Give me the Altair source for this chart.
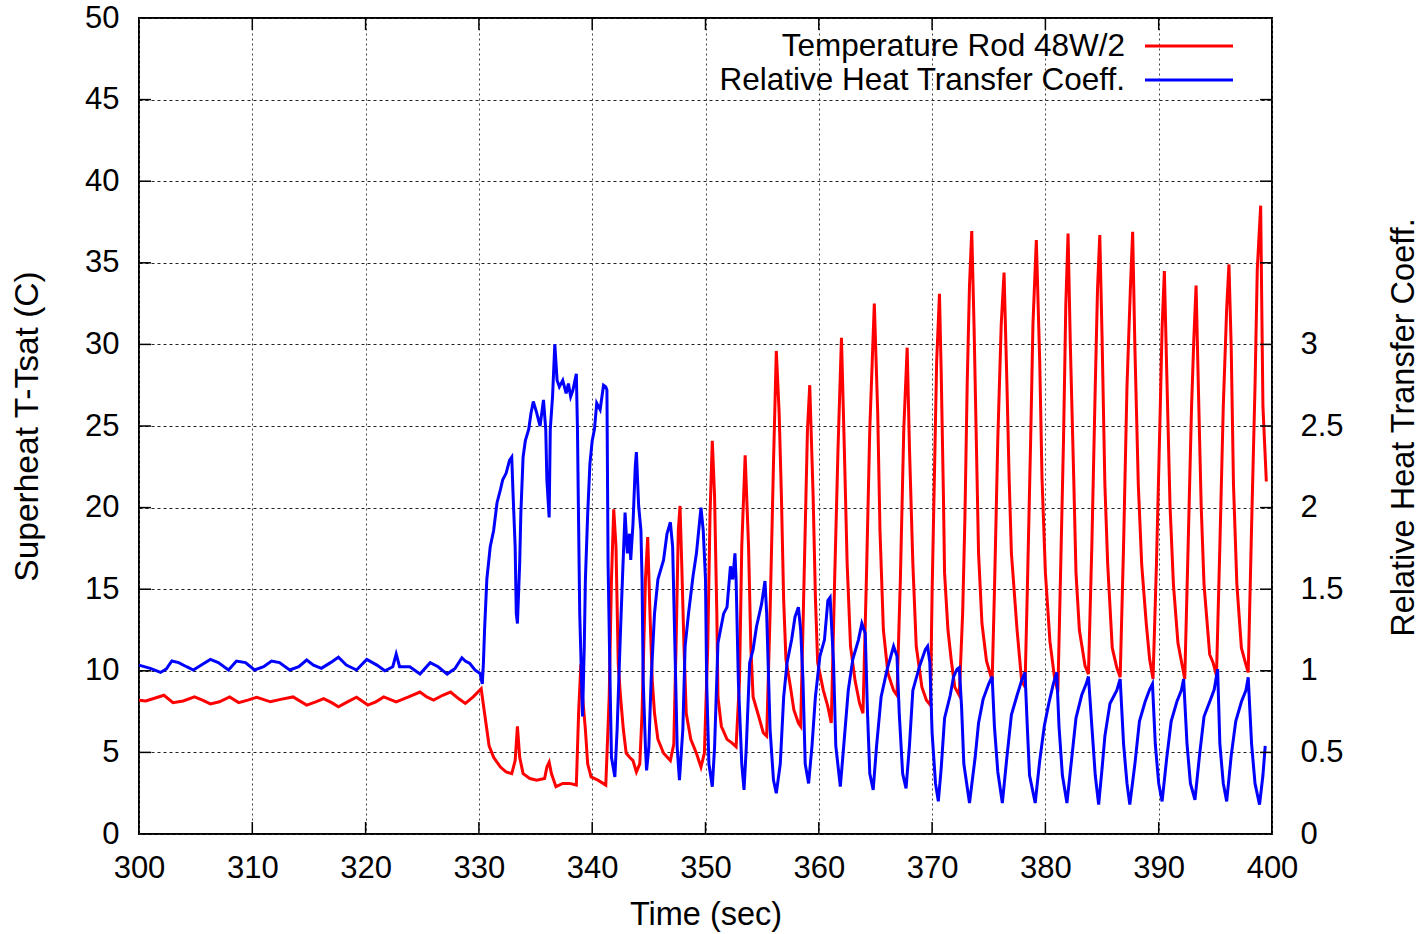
import altair as alt
import pandas as pd

# ---------------- data ----------------
series_names = ["Temperature Rod 48W/2", "Relative Heat Transfer Coeff."]
series_colors = ["#ff0000", "#0000ff"]

x_ticks = [300, 310, 320, 330, 340, 350, 360, 370, 380, 390, 400]
y_ticks = [0, 5, 10, 15, 20, 25, 30, 35, 40, 45, 50]
y2_ticks = [0, 0.5, 1, 1.5, 2, 2.5, 3]

# Superheat T-Tsat (C) of the rod: (time s, value)
temperature = [
    (300.0, 8.2), (300.6, 8.15), (301.3, 8.3), (302.2, 8.5), (303.0, 8.05), (303.9, 8.15),
    (304.9, 8.4), (305.6, 8.2), (306.3, 7.97), (307.1, 8.1), (308.0, 8.4), (308.8, 8.05),
    (309.6, 8.2), (310.4, 8.38), (311.6, 8.1), (312.5, 8.25), (313.6, 8.4), (314.8, 7.9),
    (315.6, 8.1), (316.3, 8.3), (317.0, 8.05), (317.6, 7.8), (318.4, 8.1), (319.2, 8.38),
    (320.2, 7.9), (320.9, 8.1), (321.6, 8.4), (322.7, 8.1), (323.8, 8.4), (324.8, 8.7),
    (325.4, 8.4), (326.0, 8.2), (326.8, 8.5), (327.5, 8.7), (328.2, 8.3), (328.8, 8.0),
    (329.5, 8.4), (330.2, 8.9),
    (330.5, 7.4), (330.7, 6.4), (330.9, 5.4), (331.3, 4.7), (331.9, 4.1), (332.4, 3.8),
    (332.9, 3.7), (333.2, 4.5), (333.4, 6.6), (333.6, 4.7), (333.9, 3.7), (334.5, 3.4),
    (335.1, 3.3), (335.8, 3.4), (336.0, 4.1), (336.2, 4.4), (336.4, 3.7), (336.8, 2.9),
    (337.4, 3.1), (338.0, 3.1), (338.6, 3.0), (338.8, 7.4), (339.0, 10.4), (339.15, 8.4),
    (339.4, 6.4), (339.6, 4.3), (339.9, 3.5), (340.5, 3.3), (341.2, 3.0),
    (341.5, 8.4), (341.7, 15.6), (341.9, 19.9), (342.1, 17.6), (342.3, 10.4), (342.5, 8.4),
    (342.75, 6.4), (343.0, 4.95), (343.3, 4.7), (343.6, 4.5), (343.9, 3.8), (344.2, 4.3),
    (344.4, 7.4), (344.7, 15.6), (344.9, 18.2), (345.1, 13.5), (345.3, 9.4), (345.5, 7.4),
    (345.8, 5.8), (346.3, 4.95), (346.9, 4.5), (347.2, 5.5), (347.4, 11.5), (347.6, 18.6),
    (347.75, 20.1), (347.9, 16.6), (348.1, 11.5), (348.3, 7.4), (348.7, 5.8), (349.2, 4.95),
    (349.6, 4.1), (349.9, 4.95), (350.2, 11.5), (350.4, 19.6), (350.6, 24.1), (350.8, 20.7),
    (351.0, 13.5), (351.1, 8.4), (351.4, 6.6), (351.9, 5.8), (352.3, 5.6), (352.7, 5.35),
    (353.0, 9.4), (353.2, 17.6), (353.5, 23.2), (353.8, 17.6), (354.0, 11.5), (354.2, 8.4),
    (354.7, 7.2), (355.1, 6.2), (355.4, 6.0), (355.7, 13.5), (356.0, 22.7), (356.25, 29.6),
    (356.5, 25.8), (356.7, 20.7), (356.9, 14.3), (357.1, 10.7), (357.5, 9.0), (357.8, 7.6),
    (358.2, 6.8), (358.4, 6.6), (358.7, 15.6), (359.0, 24.8), (359.2, 27.5), (359.5, 20.7),
    (359.7, 14.5), (359.9, 10.5), (360.4, 8.8), (360.8, 7.8), (361.1, 6.8), (361.4, 15.6),
    (361.7, 23.7), (362.0, 30.4), (362.25, 23.7), (362.5, 16.6), (362.8, 11.5), (363.2, 9.4),
    (363.6, 8.0), (363.9, 7.4), (364.2, 15.6), (364.5, 24.8), (364.9, 32.5), (365.2, 25.8),
    (365.4, 18.6), (365.7, 12.5), (366.1, 9.85), (366.6, 8.8), (366.9, 8.5), (367.2, 15.6),
    (367.5, 24.8), (367.8, 29.8), (368.0, 23.7), (368.3, 16.6), (368.6, 11.5), (369.1, 9.0),
    (369.5, 8.2), (369.85, 7.9), (370.0, 14.8), (370.2, 21.8), (370.4, 28.9), (370.65, 33.1),
    (370.8, 28.4), (371.0, 20.7), (371.1, 16.0), (371.4, 12.5), (371.7, 10.6), (372.0, 9.0),
    (372.4, 8.5), (372.7, 13.6), (372.9, 19.5), (373.1, 27.7), (373.3, 33.6), (373.5, 36.95),
    (373.7, 31.2), (373.9, 24.2), (374.1, 17.2), (374.4, 12.9), (374.8, 10.6), (375.3, 9.4),
    (375.5, 14.8), (375.8, 24.2), (376.1, 31.2), (376.35, 34.4), (376.6, 27.7), (376.8, 21.8),
    (377.0, 17.2), (377.5, 12.5), (377.9, 9.4), (378.2, 9.0), (378.4, 14.8), (378.7, 24.2),
    (378.9, 31.2), (379.2, 36.4), (379.5, 28.9), (379.7, 21.8), (380.0, 16.0), (380.4, 11.8),
    (380.8, 9.6), (381.1, 8.7), (381.3, 14.8), (381.6, 24.2), (381.8, 32.4), (382.0, 36.8),
    (382.2, 30.0), (382.5, 21.8), (382.7, 16.0), (383.0, 12.5), (383.5, 10.3), (383.8, 9.8),
    (384.1, 17.7), (384.4, 27.4), (384.6, 33.4), (384.8, 36.7), (385.0, 30.5), (385.25, 21.4),
    (385.5, 16.5), (385.9, 11.4), (386.3, 10.2), (386.6, 9.6), (386.9, 17.7), (387.2, 27.4),
    (387.5, 33.4), (387.7, 36.9), (387.9, 29.8), (388.2, 21.4), (388.5, 16.5), (388.9, 12.9),
    (389.2, 10.7), (389.5, 9.5), (389.8, 16.5), (390.1, 25.0), (390.3, 31.0), (390.5, 34.5),
    (390.7, 28.6), (391.0, 20.1), (391.3, 15.3), (391.7, 11.7), (392.3, 9.5), (392.6, 17.7),
    (392.9, 26.2), (393.1, 30.3), (393.3, 33.6), (393.5, 27.4), (393.75, 20.1), (394.0, 15.3),
    (394.5, 11.0), (394.8, 10.5), (395.1, 9.7), (395.4, 17.7), (395.7, 26.2), (396.0, 32.2),
    (396.2, 34.9), (396.4, 29.8), (396.6, 21.4), (396.9, 15.3), (397.3, 11.4), (397.65, 10.5),
    (397.9, 9.9), (398.2, 18.9), (398.5, 27.4), (398.7, 34.6), (399.0, 38.5), (399.1, 32.2),
    (399.2, 26.2), (399.5, 21.6),
]

# Relative heat transfer coefficient (right axis): (time s, value)
htc = [
    (300.0, 1.035), (301.0, 1.015), (301.9, 0.99), (302.4, 1.01), (302.9, 1.06), (303.5, 1.05),
    (304.2, 1.025), (304.8, 1.005), (305.5, 1.035), (306.3, 1.07), (307.0, 1.05), (307.9, 1.005),
    (308.6, 1.06), (309.4, 1.05), (310.2, 1.005), (311.0, 1.025), (311.7, 1.06), (312.4, 1.05),
    (313.3, 1.005), (314.1, 1.025), (314.8, 1.066), (315.4, 1.035), (316.1, 1.015), (316.9, 1.05),
    (317.6, 1.083), (318.3, 1.035), (319.2, 1.005), (320.1, 1.07), (321.0, 1.035), (321.7, 1.0),
    (322.4, 1.025), (322.7, 1.103), (323.0, 1.025), (323.9, 1.025), (324.8, 0.98), (325.7, 1.05),
    (326.4, 1.025), (327.2, 0.98), (327.9, 1.015), (328.5, 1.08), (328.8, 1.06), (329.2, 1.045),
    (329.65, 1.005), (330.1, 0.984), (330.3, 0.92),
    (330.4, 1.05), (330.5, 1.25), (330.7, 1.56), (331.0, 1.76), (331.3, 1.86), (331.6, 2.03),
    (331.9, 2.11), (332.1, 2.17), (332.4, 2.21), (332.7, 2.29), (332.9, 2.31), (333.0, 2.11),
    (333.2, 1.76), (333.3, 1.35), (333.4, 1.29), (333.6, 1.66), (333.7, 1.96), (333.9, 2.31),
    (334.1, 2.41), (334.4, 2.48), (334.6, 2.58), (334.8, 2.65), (335.1, 2.58), (335.4, 2.50),
    (335.7, 2.66), (335.9, 2.48), (336.0, 2.17), (336.2, 1.94), (336.3, 2.48), (336.5, 2.68),
    (336.7, 3.00), (336.9, 2.78), (337.1, 2.74), (337.4, 2.78), (337.7, 2.70), (337.9, 2.76),
    (338.1, 2.68), (338.3, 2.72), (338.6, 2.82), (338.7, 2.48), (338.8, 1.90), (338.9, 1.35),
    (339.1, 0.84), (339.15, 0.72), (339.3, 1.15), (339.4, 1.56), (339.6, 1.96), (339.8, 2.27),
    (340.0, 2.41), (340.2, 2.48), (340.4, 2.64), (340.7, 2.60), (341.0, 2.75), (341.2, 2.74),
    (341.3, 2.72), (341.4, 1.66), (341.6, 0.84), (341.7, 0.47), (342.0, 0.35),
    (342.2, 0.64), (342.5, 1.25), (342.7, 1.62), (342.9, 1.97), (343.1, 1.72), (343.3, 1.84),
    (343.4, 1.68), (343.6, 1.90), (343.8, 2.25), (343.9, 2.34), (344.1, 2.01), (344.3, 1.86),
    (344.4, 1.56), (344.5, 0.94), (344.7, 0.53), (344.8, 0.39), (345.0, 0.53), (345.2, 0.94),
    (345.5, 1.35), (345.8, 1.56), (346.3, 1.68), (346.6, 1.84), (346.9, 1.91), (347.1, 1.76),
    (347.3, 1.15), (347.5, 0.53), (347.7, 0.33), (348.0, 0.64), (348.2, 1.15), (348.5, 1.35),
    (348.9, 1.58), (349.2, 1.72), (349.6, 2.00), (349.8, 1.86), (350.0, 1.56), (350.1, 0.94),
    (350.3, 0.43), (350.6, 0.29), (350.8, 0.53), (351.1, 1.17), (351.6, 1.35), (351.9, 1.39),
    (352.2, 1.64), (352.4, 1.56), (352.6, 1.72), (352.7, 1.56), (352.9, 0.94), (353.2, 0.43),
    (353.4, 0.27), (353.6, 0.53), (353.9, 1.05), (354.2, 1.13), (354.5, 1.27), (354.95, 1.41),
    (355.25, 1.55), (355.4, 1.35), (355.7, 0.64), (356.0, 0.33), (356.25, 0.25),
    (356.6, 0.43), (356.9, 0.84), (357.2, 1.05), (357.6, 1.19), (357.9, 1.33), (358.2, 1.39),
    (358.4, 1.25), (358.6, 0.95), (358.8, 0.43), (359.1, 0.31), (359.4, 0.54), (359.7, 0.84),
    (360.1, 1.09), (360.5, 1.19), (360.8, 1.43), (361.0, 1.45), (361.3, 1.05), (361.5, 0.54),
    (361.9, 0.29), (362.2, 0.54), (362.6, 0.88), (363.0, 1.07), (363.5, 1.19), (363.8, 1.29),
    (364.1, 1.23), (364.3, 0.74), (364.5, 0.37), (364.8, 0.27), (365.1, 0.54), (365.5, 0.84),
    (366.0, 1.00), (366.6, 1.15), (366.9, 1.09), (367.1, 0.74), (367.4, 0.37), (367.7, 0.28),
    (368.0, 0.54), (368.3, 0.88), (368.9, 1.03), (369.4, 1.13), (369.6, 1.15), (369.8, 1.05),
    (370.0, 0.62), (370.3, 0.31), (370.55, 0.20),
    (370.8, 0.40), (371.1, 0.71), (371.6, 0.85), (371.9, 0.965), (372.2, 1.01), (372.4, 1.02),
    (372.6, 0.78), (372.8, 0.43), (373.3, 0.19), (373.8, 0.47), (374.1, 0.68), (374.5, 0.825),
    (375.0, 0.92), (375.3, 0.965), (375.5, 0.66), (375.8, 0.38), (376.2, 0.19), (376.6, 0.47),
    (377.0, 0.73), (377.5, 0.85), (377.9, 0.94), (378.2, 0.99), (378.4, 0.66), (378.6, 0.36),
    (379.1, 0.19), (379.5, 0.45), (379.9, 0.66), (380.3, 0.80), (380.7, 0.92), (381.0, 0.99),
    (381.2, 0.66), (381.5, 0.36), (381.9, 0.19), (382.3, 0.45), (382.7, 0.71), (383.2, 0.85),
    (383.6, 0.92), (383.8, 0.965), (384.1, 0.66), (384.4, 0.36), (384.7, 0.18),
    (385.0, 0.40), (385.25, 0.60), (385.7, 0.80), (386.3, 0.88), (386.6, 0.95), (386.9, 0.55),
    (387.2, 0.31), (387.45, 0.18), (387.9, 0.43), (388.3, 0.69), (388.8, 0.81), (389.2, 0.885),
    (389.45, 0.92), (389.7, 0.55), (390.0, 0.31), (390.3, 0.20), (390.7, 0.46), (391.1, 0.69),
    (391.6, 0.81), (392.0, 0.88), (392.2, 0.95), (392.5, 0.55), (392.8, 0.31), (393.2, 0.21),
    (393.6, 0.48), (394.0, 0.72), (394.5, 0.81), (394.9, 0.885), (395.2, 1.01), (395.4, 0.55),
    (395.7, 0.31), (396.0, 0.20), (396.4, 0.48), (396.8, 0.69), (397.3, 0.81), (397.7, 0.88),
    (397.9, 0.96), (398.2, 0.55), (398.5, 0.31), (398.9, 0.18), (399.2, 0.36), (399.4, 0.54),
]

# ---------------- chart ----------------
W, H = 1133, 816
FONT = "Liberation Sans"
FS = 31        # tick labels
FT = 32.5      # axis titles
FL = 31.5      # legend

red_df = pd.DataFrame(temperature, columns=["time", "value"])
blue_df = pd.DataFrame(htc, columns=["time", "value"])
xtick_df = pd.DataFrame({"t": x_ticks[1:-1]})
ytick_df = pd.DataFrame({"v": y_ticks[1:-1]})

xscale = alt.Scale(domain=[x_ticks[0], x_ticks[-1]], nice=False, zero=False)
yscale = alt.Scale(domain=[y_ticks[0], y_ticks[-1]], nice=False)
y2scale = alt.Scale(domain=[0, 5], nice=False)

x_axis = alt.Axis(
    values=x_ticks, title="Time (sec)", format="d",
    grid=True, gridColor="#444", gridDash=[2, 3], gridWidth=1,
    ticks=False, domain=False, labelPadding=19, labelFlush=False, labelOverlap=False,
    labelFontSize=FS, titleFontSize=FT, titleY=80, titleBaseline="middle",
)
y_axis = alt.Axis(
    values=y_ticks, title="Superheat T-Tsat (C)", format="d",
    grid=True, gridColor="#222", gridDash=[3, 3], gridWidth=1,
    ticks=False, domain=False, labelPadding=20, labelFlush=False, labelOverlap=False,
    labelFontSize=FS, titleFontSize=33.5, titleAngle=270, titleX=-112, titleY=H / 2,
    titleAlign="center", titleBaseline="middle",
)
y2_axis = alt.Axis(
    values=y2_ticks, title="Relative Heat Transfer Coeff.", orient="right",
    labelExpr="format(datum.value, '~g')",
    grid=False, ticks=False, domain=False, labelPadding=28, labelAlign="left",
    labelFlush=False, labelOverlap=False,
    labelFontSize=FS, titleFontSize=FT, titleAngle=270, titleX=131, titleY=H / 2 + 1,
    titleAlign="center", titleBaseline="middle",
)

red = alt.Chart(red_df).mark_line(color=series_colors[0], strokeWidth=3).encode(
    x=alt.X("time:Q", scale=xscale, axis=x_axis),
    y=alt.Y("value:Q", scale=yscale, axis=y_axis),
)
blue = alt.Chart(blue_df).mark_line(color=series_colors[1], strokeWidth=3).encode(
    x=alt.X("time:Q", scale=xscale, axis=x_axis),
    y=alt.Y("value:Q", scale=y2scale, axis=y2_axis),
)

TL = 12  # inward tick length in px
tick_bottom = alt.Chart(xtick_df).mark_rule(color="black", strokeWidth=1.5).encode(
    x=alt.X("t:Q", scale=xscale, axis=x_axis), y=alt.value(H), y2=alt.value(H - TL))
tick_top = alt.Chart(xtick_df).mark_rule(color="black", strokeWidth=1.5).encode(
    x=alt.X("t:Q", scale=xscale, axis=x_axis), y=alt.value(0), y2=alt.value(TL))
tick_left = alt.Chart(ytick_df).mark_rule(color="black", strokeWidth=1.5).encode(
    y=alt.Y("v:Q", scale=yscale, axis=None), x=alt.value(0), x2=alt.value(TL))
tick_right = alt.Chart(ytick_df).mark_rule(color="black", strokeWidth=1.5).encode(
    y=alt.Y("v:Q", scale=yscale, axis=None), x=alt.value(W), x2=alt.value(W - TL))

one = alt.Data(values=[{"k": 0}])
LEG_TX, LEG_X1, LEG_X2 = 986, 1006, 1094
leg_rows = [28, 62]
legend_layers = []
for name, color, ly in zip(series_names, series_colors, leg_rows):
    legend_layers.append(
        alt.Chart(one).mark_text(align="right", baseline="middle", fontSize=FL, font=FONT,
                                 color="black").encode(
            x=alt.value(LEG_TX), y=alt.value(ly + 1), text=alt.value(name)))
    legend_layers.append(
        alt.Chart(one).mark_rule(color=color, strokeWidth=3).encode(
            x=alt.value(LEG_X1), x2=alt.value(LEG_X2), y=alt.value(ly)))

chart = alt.layer(
    red, blue, tick_bottom, tick_top, tick_left, tick_right, *legend_layers
).resolve_scale(y="independent").properties(
    width=W, height=H,
    padding={"left": 139, "top": 18, "right": 156, "bottom": 100},
    autosize=alt.AutoSizeParams(type="none"),
    background="white",
).configure_axis(
    labelFont=FONT, titleFont=FONT, labelColor="black", titleColor="black",
    titleFontWeight="normal",
).configure_view(stroke="black", strokeWidth=2)

chart.save("out.html", embed_options={"renderer": "svg", "actions": False})
